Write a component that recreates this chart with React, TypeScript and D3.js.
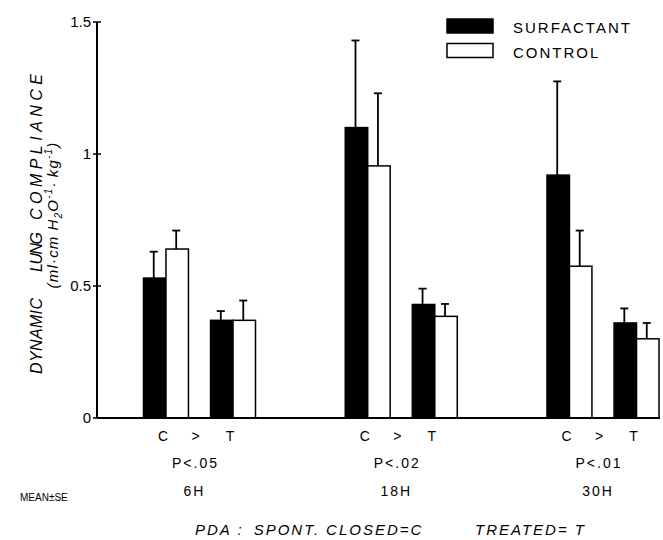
import React, { useEffect, useRef } from 'react'
import * as d3 from 'd3'

// hours after treatment
const groups = ['6H', '18H', '30H']
const pValues = ['P<.05', 'P<.02', 'P<.01']
// PDA status: spontaneously closed (C) / treated (T)
const subgroups = ['C', 'T']
const series = ['SURFACTANT', 'CONTROL']

// means, index [group][subgroup]
const surfactantMean = [[0.53, 0.37], [1.1, 0.43], [0.92, 0.36]]
const surfactantSE = [[0.1, 0.035], [0.33, 0.06], [0.355, 0.055]]
const controlMean = [[0.64, 0.37], [0.955, 0.385], [0.575, 0.3]]
const controlSE = [[0.07, 0.075], [0.275, 0.047], [0.135, 0.06]]

const yTicks = [0, 0.5, 1, 1.5]

function App() {
  const svgRef = useRef<SVGSVGElement>(null)
  const width = 663
  const height = 540

  useEffect(() => {
    const svg = d3.select(svgRef.current)
    svg.selectAll('*').remove()
    const font = '"Liberation Sans", Arial, sans-serif'

    const yScale = d3.scaleLinear().domain([0, 1.5]).range([418, 22])
    const xGroup = d3.scalePoint().domain(groups).range([199.5, 603])
    const xSub = d3.scaleBand().domain(subgroups).range([-56, 56]).paddingInner(0.33)
    const xSeries = d3.scaleBand().domain(series).range([0, xSub.bandwidth()])

    const rows: any[] = []
    groups.forEach((g, gi) => {
      subgroups.forEach((s, si) => {
        rows.push({ g, s, series: 'SURFACTANT', mean: surfactantMean[gi][si], se: surfactantSE[gi][si] })
        rows.push({ g, s, series: 'CONTROL', mean: controlMean[gi][si], se: controlSE[gi][si] })
      })
    })
    const barX = (d: any) => xGroup(d.g)! + xSub(d.s)! + xSeries(d.series)!

    // error bars (upper only)
    const eb = svg.append('g').attr('stroke', '#000').attr('stroke-width', 1.8)
    rows.forEach((d) => {
      const cx = barX(d) + xSeries.bandwidth() / 2 - 1
      eb.append('line').attr('x1', cx).attr('x2', cx)
        .attr('y1', yScale(d.mean)).attr('y2', yScale(d.mean + d.se))
      eb.append('line').attr('x1', cx - 4).attr('x2', cx + 4)
        .attr('y1', yScale(d.mean + d.se)).attr('y2', yScale(d.mean + d.se))
    })

    svg.append('g').selectAll('rect').data(rows).join('rect')
      .attr('x', barX)
      .attr('y', (d: any) => yScale(d.mean))
      .attr('width', xSeries.bandwidth())
      .attr('height', (d: any) => yScale(0) - yScale(d.mean))
      .attr('fill', (d: any) => d.series === 'SURFACTANT' ? '#000' : '#fff')
      .attr('stroke', '#000')
      .attr('stroke-width', 1.5)

    // axes
    const axis = svg.append('g').attr('stroke', '#000').attr('stroke-width', 2)
    axis.append('line').attr('x1', 97).attr('x2', 97).attr('y1', yScale(1.5)).attr('y2', yScale(0))
    axis.append('line').attr('x1', 97).attr('x2', 660).attr('y1', yScale(0)).attr('y2', yScale(0))
    axis.selectAll('line.tick').data(yTicks).join('line')
      .attr('class', 'tick')
      .attr('x1', 93).attr('x2', 101)
      .attr('y1', (d) => yScale(d)).attr('y2', (d) => yScale(d))
      .attr('stroke-width', 1.5)
    svg.append('g').selectAll('text').data(yTicks).join('text')
      .attr('x', 91).attr('y', (d) => yScale(d) + 5)
      .attr('text-anchor', 'end')
      .attr('font-family', font).attr('font-size', 15)
      .text((d) => d3.format('')(d))

    // y title, one text per word so the wide gaps hold
    const title = svg.append('g').attr('font-family', font).attr('font-style', 'italic')
    const words = [
      { w: 'DYNAMIC', y: 374, len: 76 },
      { w: 'LUNG', y: 272, len: 40 },
      { w: 'COMPLIANCE', y: 220, len: 146 },
    ]
    words.forEach((d) => {
      title.append('text')
        .attr('transform', `translate(42,${d.y}) rotate(-90)`)
        .attr('font-size', 16)
        .attr('textLength', d.len).attr('lengthAdjust', 'spacing')
        .text(d.w)
    })
    const t2 = title.append('text')
      .attr('transform', 'translate(58,215) rotate(-90)')
      .attr('text-anchor', 'middle').attr('font-size', 15)
      .attr('letter-spacing', 1.2)
    t2.append('tspan').text('(ml·cm')
    t2.append('tspan').attr('dx', 5).text('H')
    t2.append('tspan').attr('dy', 4).attr('font-size', 10).text('2')
    t2.append('tspan').attr('dy', -4).text('O')
    t2.append('tspan').attr('dy', -6).attr('font-size', 10).text('-1')
    t2.append('tspan').attr('dy', 6).text('·')
    t2.append('tspan').attr('dx', 4).text('kg')
    t2.append('tspan').attr('dy', -6).attr('font-size', 10).text('-1')
    t2.append('tspan').attr('dy', 6).text(')')

    // legend
    const legend = svg.append('g').attr('font-family', font).attr('font-size', 15).attr('letter-spacing', 2)
    series.forEach((s, i) => {
      legend.append('rect').attr('x', 447).attr('y', 19 + i * 24.5).attr('width', 46).attr('height', 14)
        .attr('fill', i === 0 ? '#000' : '#fff').attr('stroke', '#000').attr('stroke-width', 1.5)
      legend.append('text').attr('x', 513).attr('y', 33 + i * 25).text(s)
    })

    // group labels
    const lab = svg.append('g').attr('font-family', font).attr('font-size', 14)
      .attr('letter-spacing', 2).attr('text-anchor', 'middle')
    groups.forEach((g, gi) => {
      const gx = xGroup(g)!
      subgroups.forEach((s) => {
        lab.append('text').attr('x', gx + xSub(s)! + xSub.bandwidth() / 2 - 2).attr('y', 441).text(s)
      })
      lab.append('text').attr('x', gx - 3).attr('y', 441).text('>')
      lab.append('text').attr('x', gx - 4).attr('y', 468).text(pValues[gi])
      lab.append('text').attr('x', gx - 5).attr('y', 496).text(g)
    })
    svg.append('text').attr('x', 20).attr('y', 501)
      .attr('font-family', font).attr('font-size', 10).text('MEAN±SE')

    const foot = svg.append('g').attr('font-family', font).attr('font-size', 15)
      .attr('font-style', 'italic').attr('letter-spacing', 2)
    const f1 = foot.append('text').attr('x', 195).attr('y', 535)
    f1.append('tspan').text('PDA :')
    f1.append('tspan').attr('dx', 10).text('SPONT.')
    f1.append('tspan').attr('dx', 6).text('CLOSED=C')
    foot.append('text').attr('x', 475).attr('y', 535).text('TREATED= T')
  }, [])

  return (
    <svg ref={svgRef} width={width} height={height}
      style={{ position: 'absolute', left: 0, top: 0, background: '#fff' }}></svg>
  )
}
export default App
